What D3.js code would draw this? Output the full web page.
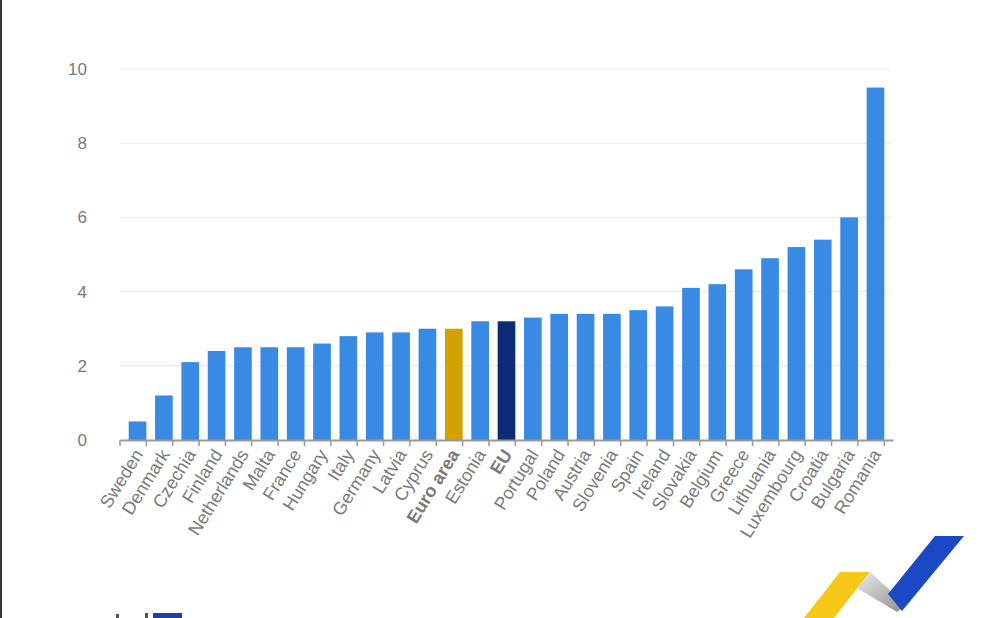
<!DOCTYPE html>
<html>
<head>
<meta charset="utf-8">
<script src="https://cdn.jsdelivr.net/npm/d3@7"></script>
<style>
  body { margin: 0; background: #fff; }
  svg { display: block; font-family: "Liberation Sans", Arial, sans-serif; }
</style>
</head>
<body>
<svg id="chart" width="990" height="618"></svg>
<script>
var countries = ["Sweden", "Denmark", "Czechia", "Finland", "Netherlands", "Malta", "France", "Hungary",
  "Italy", "Germany", "Latvia", "Cyprus", "Euro area", "Estonia", "EU", "Portugal", "Poland", "Austria",
  "Slovenia", "Spain", "Ireland", "Slovakia", "Belgium", "Greece", "Lithuania", "Luxembourg", "Croatia",
  "Bulgaria", "Romania"];
var values = [0.5, 1.2, 2.1, 2.4, 2.5, 2.5, 2.5, 2.6, 2.8, 2.9, 2.9, 3.0, 3.0, 3.2, 3.2, 3.3, 3.4, 3.4,
  3.4, 3.5, 3.6, 4.1, 4.2, 4.6, 4.9, 5.2, 5.4, 6.0, 9.5];
var yTicks = [0, 2, 4, 6, 8, 10];

var highlight = { "Euro area": "#d3a100", "EU": "#0d2b77" };

var svg = d3.select("#chart");

// frame edge on the left
svg.append("rect").attr("x", 0).attr("y", 0).attr("width", 2).attr("height", 618).attr("fill", "#333");

var x = d3.scaleBand().domain(countries).range([120, 893]).padding(0.33);
var y = d3.scaleLinear().domain([0, 10]).range([440, 69]);

// grid
svg.append("g").selectAll("line").data(yTicks.filter(d => d > 0)).join("line")
  .attr("x1", 120).attr("x2", 890)
  .attr("y1", d => y(d)).attr("y2", d => y(d))
  .attr("stroke", "#e4e8ec").attr("stroke-width", 1);

// y labels
svg.append("g").selectAll("text").data(yTicks).join("text")
  .attr("x", 87).attr("y", d => y(d)).attr("dy", "0.35em")
  .attr("text-anchor", "end").attr("font-size", 17).attr("fill", "#7a7a7a")
  .text(d => d);

// bars
svg.append("g").selectAll("rect").data(countries).join("rect")
  .attr("x", d => x(d))
  .attr("y", (d, i) => y(values[i]))
  .attr("width", x.bandwidth())
  .attr("height", (d, i) => y(0) - y(values[i]))
  .attr("fill", d => highlight[d] || "#398ae2");

// x axis
var xAxis = svg.append("g").attr("transform", "translate(0,440)")
  .call(d3.axisBottom(x).tickSize(0).tickSizeOuter(0));
xAxis.select(".domain").attr("stroke", "#999").attr("stroke-width", 2);

// tick marks between bands
var step = x.step();
var bounds = d3.range(countries.length + 1).map(i => 120 + i * step);
xAxis.append("g").selectAll("line").data(bounds).join("line")
  .attr("x1", d => d).attr("x2", d => d).attr("y1", 0).attr("y2", 6)
  .attr("stroke", "#999").attr("stroke-width", 1.5);

xAxis.selectAll(".tick text")
  .attr("font-size", 18)
  .attr("font-family", "'Liberation Sans', Arial, sans-serif")
  .attr("fill", "#7a7a7a")
  .attr("font-weight", d => highlight[d] ? "bold" : "normal")
  .attr("text-anchor", "end")
  .attr("transform", "translate(1,11) rotate(-58)")
  .attr("dy", "0.35em")
  .attr("y", 0).attr("x", 0);

// logo, bottom right
var logo = svg.append("g");
logo.append("polygon").attr("points", "804,618 840,572 870,572 834,618").attr("fill", "#f7c818");
var grad = svg.append("defs").append("linearGradient").attr("id", "grey")
  .attr("x1", "0").attr("y1", "0").attr("x2", "1").attr("y2", "1");
grad.append("stop").attr("offset", "0").attr("stop-color", "#ececec");
grad.append("stop").attr("offset", "1").attr("stop-color", "#8c8c8c");
logo.append("polygon").attr("points", "857,588 870,572 906,605 897,612").attr("fill", "url(#grey)");
logo.append("polygon").attr("points", "888,594 935,536 964,536 902,611").attr("fill", "#1b48c4");

// partial logo, bottom left
svg.append("rect").attr("x", 153).attr("y", 613).attr("width", 29).attr("height", 5).attr("fill", "#1f3fa8");
svg.append("rect").attr("x", 116).attr("y", 614).attr("width", 3).attr("height", 4).attr("fill", "#555");
svg.append("rect").attr("x", 145).attr("y", 613).attr("width", 3).attr("height", 5).attr("fill", "#555");
</script>
</body>
</html>
